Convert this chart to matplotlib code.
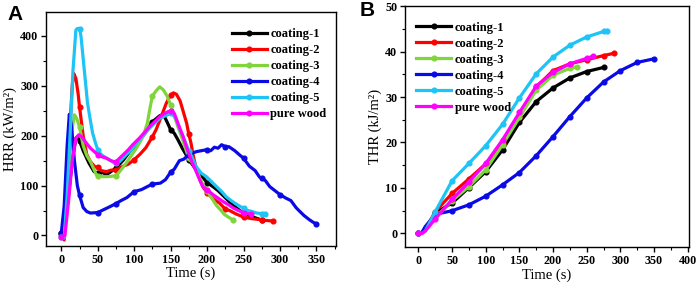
import matplotlib
matplotlib.use('Agg')
import matplotlib.pyplot as plt
from matplotlib.ticker import MultipleLocator

plt.rcParams['font.family'] = 'Liberation Serif'
plt.rcParams['font.weight'] = 'bold'

labels = ['coating-1', 'coating-2', 'coating-3', 'coating-4', 'coating-5', 'pure wood']
colors = ['#000000', '#ff0000', '#80d43c', '#0a0ae6', '#1ec4f5', '#ff00ff']

# ---- HRR (kW/m2) vs time (s)
hrr_t1 = [0, 5, 10, 15, 20, 22, 25, 30, 38, 45, 50, 57, 62, 68, 75, 85, 100, 107, 115, 125, 135, 140,
          145, 150, 155, 160, 166, 172, 175, 180, 187, 195, 200, 208, 215, 222, 229, 236, 245, 250, 257,
          265, 275]
hrr_v1 = [5, 20, 80, 150, 195, 198, 190, 170, 145, 128, 125, 126, 122, 128, 135, 151, 180, 191, 205, 228,
          240, 243, 228, 212, 205, 192, 175, 160, 152, 142, 128, 115, 106, 98, 90, 80, 70, 60, 50, 45, 41,
          36, 31]

hrr_t2 = [0, 4, 8, 12, 15, 17, 20, 23, 25, 30, 35, 40, 46, 50, 55, 62, 68, 75, 80, 85, 92, 100, 108,
          116, 125, 130, 137, 144, 150, 154, 158, 163, 168, 172, 175, 178, 181, 185, 190, 195, 200, 208,
          217, 225, 231, 240, 250, 260, 272, 275, 282, 290]
hrr_v2 = [2, -9, 80, 220, 300, 325, 315, 285, 258, 200, 162, 148, 138, 137, 130, 128, 131, 131, 135, 139,
          143, 152, 163, 176, 198, 212, 238, 265, 282, 286, 283, 270, 245, 225, 203, 185, 160, 135, 112, 96,
          86, 74, 65, 53, 50, 43, 37, 34, 32, 31, 30, 29]

hrr_t3 = [0, 5, 10, 15, 18, 21, 25, 30, 35, 40, 48, 50, 57, 65, 75, 80, 89, 95, 103, 112, 118, 121, 125,
          130, 135, 140, 145, 150, 155, 160, 167, 171, 175, 180, 185, 190, 195, 200, 205, 213, 218, 224,
          229, 236]
hrr_v3 = [0, 20, 120, 215, 242, 235, 218, 180, 160, 148, 122, 120, 118, 118, 120, 128, 145, 158, 175, 198,
          225, 250, 280, 290, 298, 292, 280, 262, 240, 218, 190, 172, 155, 145, 135, 115, 100, 90, 78, 60,
          52, 42, 37, 31]

hrr_t4 = [0, 4, 8, 11, 14, 18, 22, 25, 30, 35, 40, 50, 57, 67, 75, 82, 90, 100, 110, 118, 125, 136, 143,
          150, 155, 162, 168, 175, 185, 192, 200, 205, 210, 215, 220, 225, 230, 238, 245, 250, 258, 266,
          272, 275, 280, 286, 293, 300, 308, 315, 322, 326, 333, 340, 345, 350]
hrr_v4 = [5, 60, 180, 243, 220, 150, 100, 81, 56, 48, 45, 46, 51, 58, 64, 70, 76, 88, 92, 98, 103, 105,
          112, 127, 133, 150, 153, 162, 168, 170, 172, 170, 177, 175, 182, 178, 178, 170, 161, 155, 139,
          130, 117, 115, 110, 98, 90, 82, 75, 70, 56, 50, 40, 32, 27, 23]

hrr_t5 = [0, 4, 8, 12, 16, 20, 22, 25, 27, 30, 33, 36, 40, 43, 47, 50, 55, 62, 68, 73, 75, 80, 89, 95,
          103, 112, 121, 128, 135, 146, 150, 155, 158, 162, 165, 170, 175, 180, 185, 192, 199, 206, 213,
          220, 226, 233, 240, 247, 250, 254, 262, 268, 275, 280]
hrr_v5 = [-3, -5, 80, 200, 330, 412, 415, 415, 400, 355, 310, 265, 230, 205, 185, 172, 162, 155, 150, 145,
          145, 148, 162, 170, 185, 200, 215, 225, 235, 242, 245, 240, 232, 215, 205, 188, 170, 155, 138,
          125, 118, 108, 98, 88, 78, 70, 63, 57, 55, 51, 48, 45, 44, 44]

hrr_t6 = [0, 5, 10, 15, 20, 24, 28, 33, 40, 50, 55, 62, 68, 73, 75, 80, 85, 92, 98, 107, 115, 121, 128,
          135, 140, 146, 150, 155, 160, 164, 167, 170, 174, 178, 183, 188, 194, 200, 208, 215, 222, 229,
          236, 243, 250, 255, 260]
hrr_v6 = [-3, 0, 70, 150, 195, 202, 198, 188, 175, 162, 158, 155, 150, 148, 148, 155, 162, 172, 182, 195,
          208, 218, 228, 238, 243, 248, 250, 245, 225, 210, 199, 185, 168, 152, 135, 118, 98, 92, 82, 75,
          68, 62, 55, 50, 46, 44, 43]

# ---- THR (kJ/m2) vs time (s)
thr_t1 = [0, 5, 10, 25, 50, 75, 100, 125, 150, 175, 200, 225, 250, 275]
thr_v1 = [0, 0.1, 0.8, 4.5, 6.7, 10.1, 13.6, 18.4, 24.4, 29.0, 32.0, 34.2, 35.6, 36.5]

thr_t2 = [0, 5, 10, 25, 50, 75, 100, 125, 150, 175, 200, 225, 250, 275, 290]
thr_v2 = [0, 0.1, 0.8, 4.8, 8.8, 12.0, 15.3, 19.8, 25.6, 32.2, 35.8, 37.3, 38.2, 39.1, 39.6]

thr_t3 = [0, 5, 10, 25, 50, 75, 100, 125, 150, 175, 200, 225, 235]
thr_v3 = [0, 0.1, 0.7, 3.5, 7.2, 10.3, 14.0, 19.5, 25.5, 31.5, 34.8, 36.3, 36.6]

thr_t4 = [0, 5, 10, 25, 50, 75, 100, 125, 150, 175, 200, 225, 250, 275, 300, 325, 350]
thr_v4 = [0, 0.2, 1.5, 4.2, 5.0, 6.3, 8.2, 10.7, 13.4, 17.1, 21.3, 25.7, 29.8, 33.3, 35.8, 37.6, 38.4]

thr_t5 = [0, 5, 10, 25, 50, 75, 100, 125, 150, 175, 200, 225, 250, 275, 280]
thr_v5 = [0, 0.0, 0.5, 4.8, 11.6, 15.4, 19.3, 24.0, 29.8, 35.1, 38.8, 41.4, 43.2, 44.4, 44.6]

thr_t6 = [0, 5, 10, 25, 50, 75, 100, 125, 150, 175, 200, 225, 250, 260]
thr_v6 = [0, 0.0, 0.5, 3.2, 7.5, 11.3, 15.4, 20.6, 26.6, 32.4, 35.4, 37.3, 38.5, 39.0]

hrr = [(hrr_t1, hrr_v1), (hrr_t2, hrr_v2), (hrr_t3, hrr_v3),
       (hrr_t4, hrr_v4), (hrr_t5, hrr_v5), (hrr_t6, hrr_v6)]
thr = [(thr_t1, thr_v1), (thr_t2, thr_v2), (thr_t3, thr_v3),
       (thr_t4, thr_v4), (thr_t5, thr_v5), (thr_t6, thr_v6)]


def marks(t):
    # markers every 25 s plus the last point
    idx = [i for i, v in enumerate(t) if v % 25 == 0]
    if len(t) - 1 not in idx:
        idx.append(len(t) - 1)
    return idx


fig = plt.figure(figsize=(6.99, 2.87), dpi=100)
axA = fig.add_axes([0.0658, 0.143, 0.415, 0.815])
axB = fig.add_axes([0.5794, 0.139, 0.4063, 0.840])

for ax, series in ((axA, hrr), (axB, thr)):
    for (t, v), c, lab in zip(series, colors, labels):
        ax.plot(t, v, color=c, lw=2.3, marker='o', ms=3.4, markevery=marks(t), label=lab)
    for s in ax.spines.values():
        s.set_linewidth(1.0)
    ax.tick_params(which='both', direction='out', top=False, right=False, labelsize=8.7, pad=2)
    ax.tick_params(which='major', length=3.5, width=1.0)
    ax.tick_params(which='minor', length=2, width=0.8)
    ax.legend(loc='upper left', frameon=False, fontsize=9, handlelength=2.8,
              handletextpad=0.3, labelspacing=0.32, borderpad=0, borderaxespad=0)
    ax.set_xlabel('Time (s)', fontsize=10.5, labelpad=1)

axA.set_xlim(-21, 377)
axA.set_ylim(-21, 448)
axA.xaxis.set_major_locator(MultipleLocator(50))
axA.xaxis.set_minor_locator(MultipleLocator(25))
axA.yaxis.set_major_locator(MultipleLocator(100))
axA.yaxis.set_minor_locator(MultipleLocator(50))
axA.set_ylabel('HRR (kW/m²)', fontsize=10.5, labelpad=2)
axA.legend_.set_bbox_to_anchor((0.64, 0.93))

axB.set_xlim(-20, 402)
axB.set_ylim(-3, 50)
axB.xaxis.set_major_locator(MultipleLocator(50))
axB.xaxis.set_minor_locator(MultipleLocator(25))
axB.yaxis.set_major_locator(MultipleLocator(10))
axB.yaxis.set_minor_locator(MultipleLocator(5))
axB.set_ylabel('THR (kJ/m²)', fontsize=10.5, labelpad=2)
axB.legend_.set_bbox_to_anchor((0.04, 0.935))

fig.text(0.0215, 0.948, 'A', family='Liberation Sans', weight='bold', fontsize=15, ha='center', va='center')
fig.text(0.525, 0.962, 'B', family='Liberation Sans', weight='bold', fontsize=15, ha='center', va='center')

fig.savefig('out.png', dpi=100)
